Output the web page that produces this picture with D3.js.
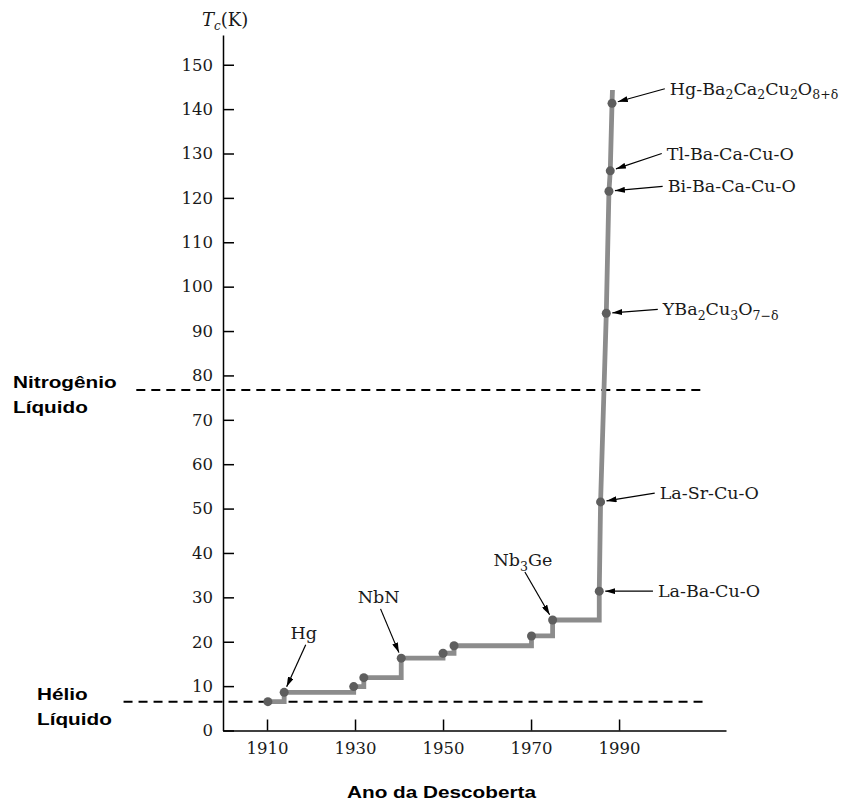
<!DOCTYPE html>
<html lang="pt">
<head>
<meta charset="utf-8">
<title>Tc x ano da descoberta</title>
<script src="https://cdnjs.cloudflare.com/ajax/libs/d3/7.8.5/d3.min.js"></script>
<style>
  body { margin: 0; background: #fff; }
  .serif { font-family: "DejaVu Serif", serif; fill: #1a1a1a; }
  .bold { font-family: "Liberation Sans", Arial, sans-serif; font-weight: bold; font-size: 17px; fill: #000; }
</style>
</head>
<body>
<script>
// values: year of discovery and Tc (K)
var years    = [1910.2, 1913.9, 1929.7, 1932.0, 1940.5, 1950.0, 1952.5, 1970.1, 1974.9, 1985.5, 1985.8, 1987.1, 1987.7, 1988.0, 1988.4];
var tcValues = [6.5, 8.6, 9.9, 11.9, 16.3, 17.4, 19.1, 21.3, 24.9, 31.4, 51.5, 94.0, 121.5, 126.1, 141.3];
var lineEndYear = 1988.5, lineEndTc = 144.3;
var stepCount = 10; // the first points are joined by steps, the cuprates by a straight line

var yearTicks = [1910, 1930, 1950, 1970, 1990];
var tcTicks = d3.range(0, 151, 10);

// reference temperatures (liquid He / liquid N2 lines as drawn)
var refNames = [["Hélio", "Líquido"], ["Nitrogênio", "Líquido"]];
var refTc = [6.5, 76.7];
var refFromYear = [1877.4, 1880.3];
var refToYear = 2009.7;

// annotations: [text, subscript?] pieces
var labelParts = [
  [["Hg", 0]],
  [["NbN", 0]],
  [["Nb", 0], ["3", 1], ["Ge", 0]],
  [["La-Ba-Cu-O", 0]],
  [["La-Sr-Cu-O", 0]],
  [["YBa", 0], ["2", 1], ["Cu", 0], ["3", 1], ["O", 0], ["7\u2212\u03b4", 1]],
  [["Bi-Ba-Ca-Cu-O", 0]],
  [["Tl-Ba-Ca-Cu-O", 0]],
  [["Hg-Ba", 0], ["2", 1], ["Ca", 0], ["2", 1], ["Cu", 0], ["2", 1], ["O", 0], ["8+\u03b4", 1]]
];
var labelPoint = [1, 4, 8, 9, 10, 11, 12, 13, 14];
var tailYear = [1918.8, 1935.8, 1968.6, 1997.7, 1998.1, 1998.8, 1999.9, 1999.7, 2000.4];
var tailTc   = [19.3, 27.4, 35.7, 31.4, 53.5, 94.9, 122.6, 130.0, 144.6];
var labelAbove = [true, true, true, false, false, false, false, false, false];

var width = 846, height = 802;
var margin = { top: 35, left: 223, right: 120, bottom: 71.5 };

var svg = d3.select("body").append("svg")
    .attr("width", width)
    .attr("height", height);

var x = d3.scaleLinear().domain([1900, 2014.3]).range([margin.left, width - margin.right]);
var y = d3.scaleLinear().domain([0, 156.7]).range([height - margin.bottom, margin.top]);

svg.append("defs").append("marker")
    .attr("id", "head")
    .attr("viewBox", "0 0 10 6")
    .attr("refX", 10).attr("refY", 3)
    .attr("markerWidth", 10).attr("markerHeight", 6)
    .attr("markerUnits", "userSpaceOnUse")
    .attr("orient", "auto")
  .append("path")
    .attr("d", "M0,0L10,3L0,6Z")
    .attr("fill", "#000");

// dashed reference lines + bold labels
refTc.forEach(function(t, i) {
  svg.append("line")
    .attr("x1", x(refFromYear[i])).attr("x2", x(refToYear))
    .attr("y1", y(t)).attr("y2", y(t))
    .attr("stroke", "#000")
    .attr("stroke-width", 2)
    .attr("stroke-dasharray", "9,6");
});

var refLabelX = [37, 13];
refNames.forEach(function(lines, i) {
  var g = svg.append("g")
    .attr("transform", "translate(" + refLabelX[i] + "," + (y(refTc[i]) - 2) + ") scale(1.22,1)");
  lines.forEach(function(s, j) {
    g.append("text").attr("class", "bold").attr("y", j * 25).text(s);
  });
});

// axes
var yAxis = d3.axisLeft(y).tickValues(tcTicks).tickSizeInner(-11).tickSizeOuter(0).tickPadding(10);
var xAxis = d3.axisBottom(x).tickValues(yearTicks).tickFormat(d3.format("d")).tickSizeInner(-11).tickSizeOuter(0).tickPadding(12);

var gy = svg.append("g")
    .attr("transform", "translate(" + margin.left + ",0)")
    .call(yAxis);
var gx = svg.append("g")
    .attr("transform", "translate(0," + (height - margin.bottom) + ")")
    .call(xAxis);

[gx, gy].forEach(function(g) {
  g.selectAll("path, line").attr("stroke", "#000").attr("stroke-width", 1.5);
  g.selectAll("text").attr("class", "serif").attr("font-size", 16.5).attr("fill", "#1a1a1a");
  g.attr("font-family", null).attr("font-size", null);
});

var tcLabel = svg.append("text")
    .attr("class", "serif")
    .attr("x", margin.left - 21)
    .attr("y", 26)
    .attr("font-size", 18);
tcLabel.append("tspan").attr("font-style", "italic").text("T");
tcLabel.append("tspan").attr("font-style", "italic").attr("font-size", 12).attr("dy", 4).text("c");
tcLabel.append("tspan").attr("dy", -4).text("(K)");

svg.append("g")
    .attr("transform", "translate(" + (margin.left + 124) + ",798) scale(1.22,1)")
  .append("text")
    .attr("class", "bold")
    .text("Ano da Descoberta");

// step part and straight part of the Tc curve
var stepData = d3.range(stepCount).map(function(i) { return [years[i], tcValues[i]]; });
var riseData = d3.range(stepCount - 1, years.length).map(function(i) { return [years[i], tcValues[i]]; });
riseData.push([lineEndYear, lineEndTc]);

var line = d3.line().x(function(d) { return x(d[0]); }).y(function(d) { return y(d[1]); });

svg.append("path")
    .attr("d", line.curve(d3.curveStepAfter)(stepData))
    .attr("fill", "none")
    .attr("stroke", "#8c8c8c")
    .attr("stroke-width", 4.8);
svg.append("path")
    .attr("d", line.curve(d3.curveLinear)(riseData))
    .attr("fill", "none")
    .attr("stroke", "#8c8c8c")
    .attr("stroke-width", 4.8);

var r = 4.5;
svg.append("g").selectAll("circle")
    .data(years)
  .enter().append("circle")
    .attr("cx", function(d) { return x(d); })
    .attr("cy", function(d, i) { return y(tcValues[i]); })
    .attr("r", r)
    .attr("fill", "#5e5e5e");

// arrows and labels
labelParts.forEach(function(parts, i) {
  var tx = x(tailYear[i]), ty = y(tailTc[i]);
  var px = x(years[labelPoint[i]]), py = y(tcValues[labelPoint[i]]);
  var dx = px - tx, dy = py - ty, len = Math.sqrt(dx * dx + dy * dy);
  var k = (len - r - 1.5) / len;

  svg.append("line")
    .attr("x1", tx).attr("y1", ty)
    .attr("x2", tx + dx * k).attr("y2", ty + dy * k)
    .attr("stroke", "#000")
    .attr("stroke-width", 1.2)
    .attr("marker-end", "url(#head)");

  var t = svg.append("text")
    .attr("class", "serif")
    .attr("font-size", 17.5);
  if (labelAbove[i]) {
    t.attr("x", tx - 2).attr("y", ty - 6).attr("text-anchor", "middle");
  } else {
    t.attr("x", tx + 5).attr("y", ty + 6);
  }
  var shift = 0;
  parts.forEach(function(p) {
    var s = t.append("tspan").text(p[0]);
    var want = p[1] ? 4.5 : 0;
    if (want !== shift) s.attr("dy", want - shift);
    if (p[1]) s.attr("font-size", 12.5);
    shift = want;
  });
});
</script>
</body>
</html>
